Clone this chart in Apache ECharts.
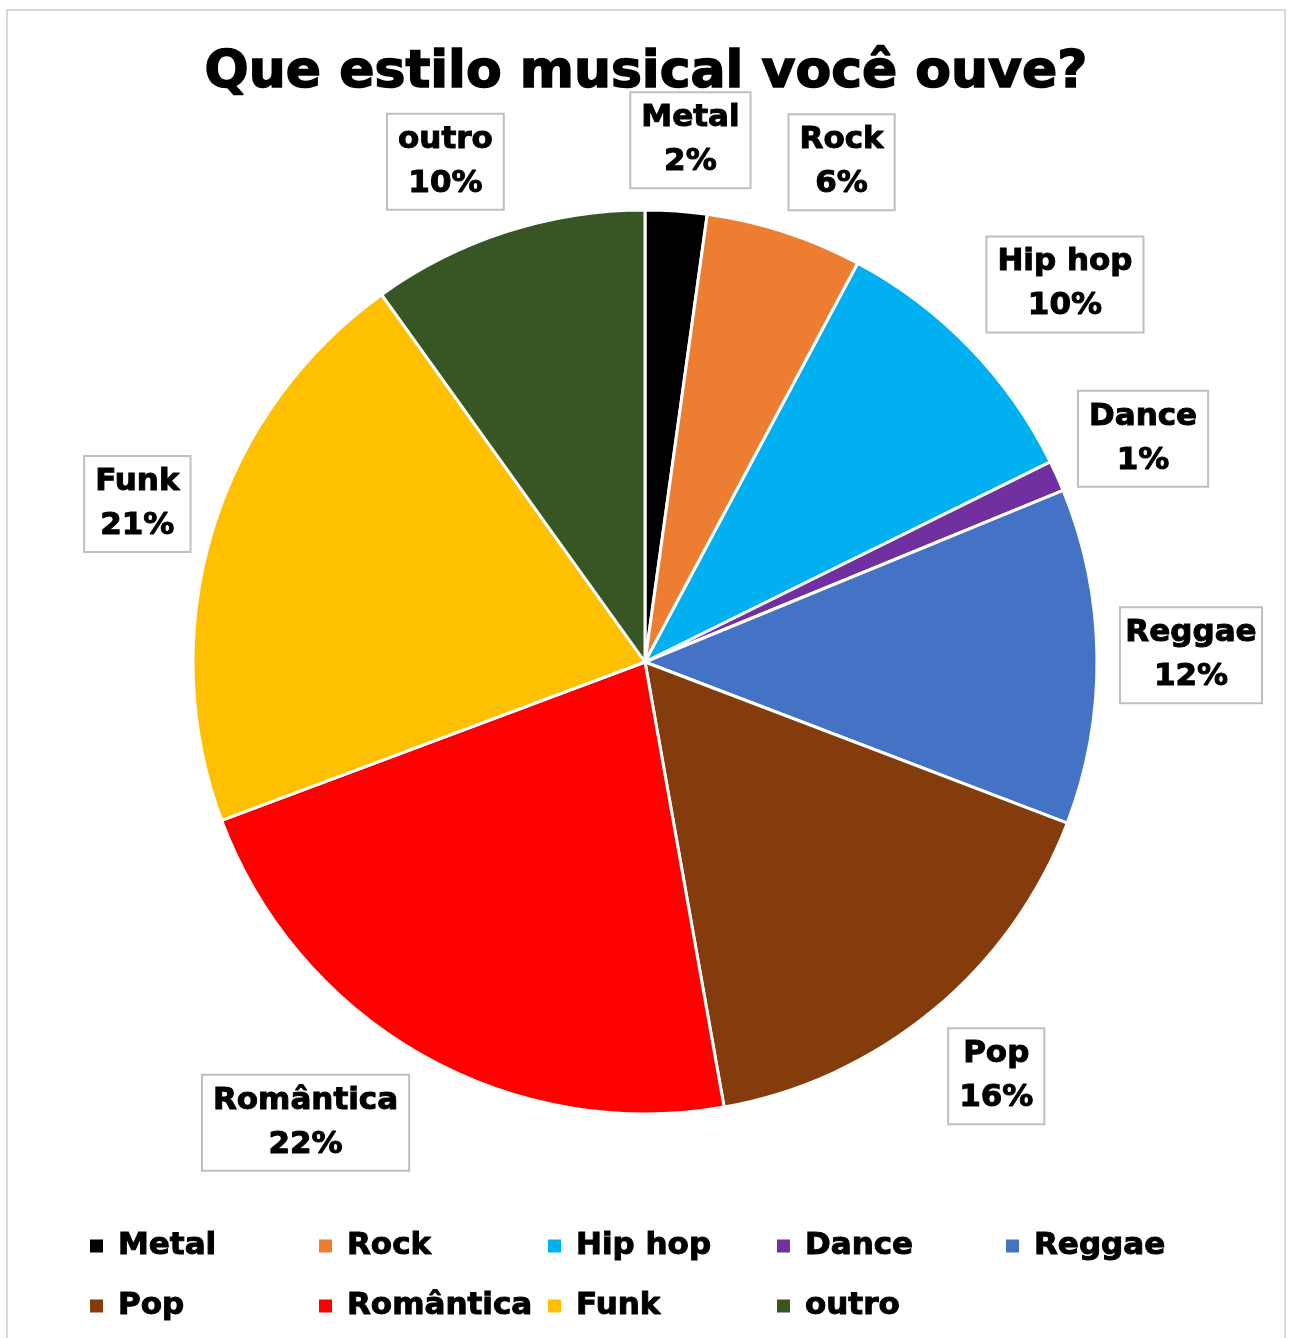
<!DOCTYPE html>
<html>
<head>
<meta charset="utf-8">
<script src="https://cdn.jsdelivr.net/npm/echarts@6/dist/echarts.min.js"></script>
<style>
html,body{margin:0;padding:0;background:#fff;}
#frame{position:absolute;left:6px;top:9px;width:1280px;height:1340px;border:2px solid #d9d9d9;box-sizing:border-box;}
#chart{position:absolute;left:0;top:0;width:1292px;height:1338px;}
</style>
</head>
<body>
<div id="frame"></div>
<div id="chart"></div>
<script>
const titleText = 'Que estilo musical você ouve?';
const categories = ['Metal', 'Rock', 'Hip hop', 'Dance', 'Reggae', 'Pop', 'Romântica', 'Funk', 'outro'];
const values = [2.2, 5.6, 9.9, 1.1, 12.0, 16.4, 22.1, 20.8, 9.9];
const colors = ['#000000', '#ED7D31', '#00B0F0', '#7030A0', '#4472C4', '#843C0C', '#FF0000', '#FFC000', '#375623'];

const FONT = 'DejaVu Sans';
const CX = 645, CY = 662, R = 452, GAP = 22;
const total = values.reduce((a, b) => a + b, 0);
const midAngles = [];
{
  let acc = 0;
  values.forEach(v => { midAngles.push((acc + v / 2) / total * 2 * Math.PI); acc += v; });
}
const clamp = v => Math.max(-1, Math.min(1, v));

const chart = echarts.init(document.getElementById('chart'), null, {renderer: 'canvas'});
chart.setOption({
  animation: false,
  backgroundColor: 'transparent',
  title: {
    text: titleText,
    left: 'center',
    top: 42,
    textStyle: {fontFamily: FONT, fontWeight: 'bold', fontSize: 52, color: '#000', textBorderColor: '#000', textBorderWidth: 1.5}
  },
  legend: {
    data: categories,
    left: 88,
    top: 1216,
    padding: 0,
    width: 1150,
    itemGap: 0,
    itemWidth: 15,
    itemHeight: 15,
    icon: 'rect',
    textStyle: {fontFamily: FONT, fontWeight: 'bold', fontSize: 31, color: '#000', textBorderColor: '#000', textBorderWidth: 1, width: 199, lineHeight: 60, padding: [0, 0, 0, 9]}
  },
  series: [{
    type: 'pie',
    center: [CX, CY],
    radius: R,
    startAngle: 90,
    clockwise: true,
    data: categories.map((c, i) => ({name: c, value: values[i], itemStyle: {color: colors[i]}})),
    itemStyle: {borderColor: '#fff', borderWidth: 3},
    label: {
      show: true,
      position: 'outside',
      overflow: 'none',
      formatter: p => p.name + '\n' + Math.round(p.percent) + '%',
      fontFamily: FONT,
      fontWeight: 'bold',
      fontSize: 31,
      lineHeight: 44,
      color: '#000',
      textBorderColor: '#000',
      textBorderWidth: 1,
      align: 'center',
      backgroundColor: '#fff',
      borderColor: '#bfbfbf',
      borderWidth: 2,
      padding: [5, 10, 1, 10]
    },
    labelLine: {show: false},
    labelLayout: function (params) {
      const a = midAngles[params.dataIndex];
      const ux = Math.sin(a), uy = -Math.cos(a);
      const w = params.labelRect.width / 2, h = params.labelRect.height / 2;
      const ax = CX + (R + GAP) * ux, ay = CY + (R + GAP) * uy;
      return {x: ax + w * clamp(3 * ux), y: ay + h * clamp(1.4 * uy), align: 'center', verticalAlign: 'middle'};
    },
    emphasis: {disabled: true}
  }]
});
</script>
</body>
</html>
